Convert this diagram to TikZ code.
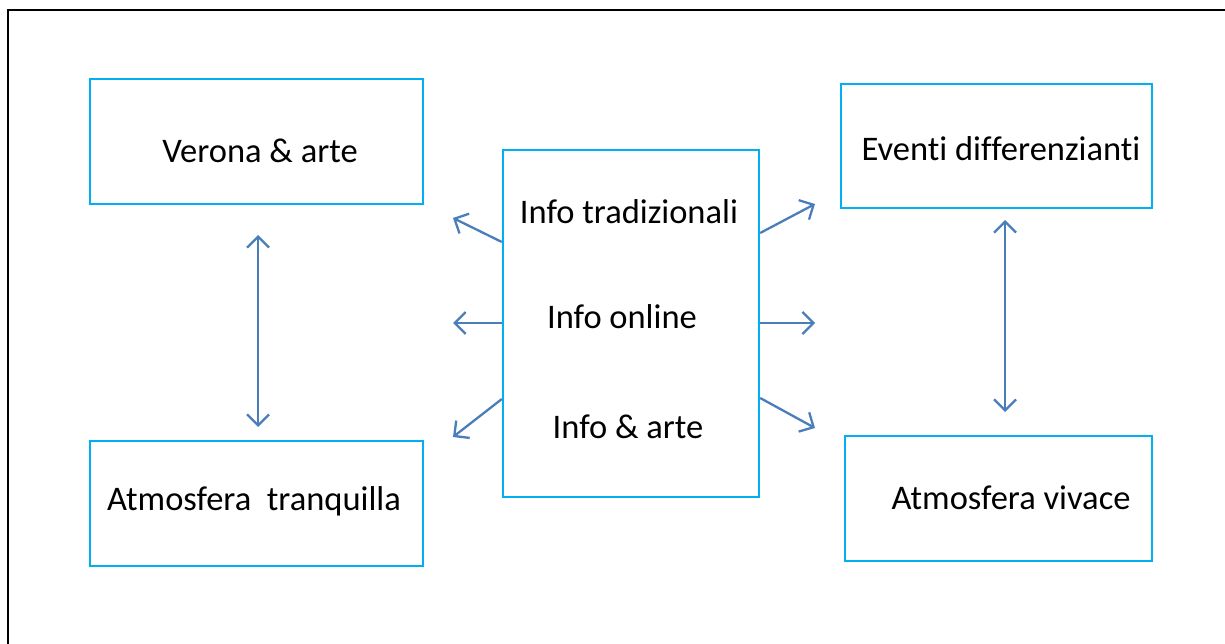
\documentclass[tikz,border=0pt]{standalone}
\usepackage{fontspec}
\setmainfont[Ligatures={NoCommon}]{Carlito}
\usetikzlibrary{arrows.meta}
\definecolor{boxblue}{HTML}{00B0F0}
\definecolor{arrblue}{HTML}{4A7EBB}
\begin{document}
\begin{tikzpicture}[x=1pt,y=-1pt,
  box/.style={draw=boxblue,line width=2.3pt,inner sep=0pt},
  lbl/.style={font=\fontsize{34.5}{40}\selectfont,inner sep=0pt,anchor=base},
  conn/.style={draw=arrblue,line width=2.3pt,-{Straight Barb[length=11pt,width=22pt,line width=2.3pt]}},
  dconn/.style={draw=arrblue,line width=2.3pt,{Straight Barb[length=11pt,width=22pt,line width=2.3pt]}-{Straight Barb[length=11pt,width=22pt,line width=2.3pt]}}]
\useasboundingbox (0,0) rectangle (1225,644);
\draw[line width=2pt] (8,644) -- (8,10) -- (1225,10);
% boxes
\node[box,minimum width=333pt,minimum height=125pt] (va) at (256.5,141.5) {};
\node[box,minimum width=333pt,minimum height=125pt] (at) at (256.5,503.5) {};
\node[box,minimum width=256pt,minimum height=347pt] (c) at (631,323.5) {};
\node[box,minimum width=311pt,minimum height=124pt] (ed) at (996.5,146) {};
\node[box,minimum width=307pt,minimum height=125pt] (av) at (998.5,498.5) {};
% labels
\node[lbl] (tva) at (260,163) {Verona \& arte};
\node[lbl] (tat) at (254,510) {Atmosfera\ \ tranquilla};
\node[lbl] (ted) at (1001,161) {Eventi differenzianti};
\node[lbl] (tav) at (1011,509) {Atmosfera vivace};
\node[lbl] (t1) at (629,224) {Info tradizionali};
\node[lbl] (t2) at (622,328) {Info online};
\node[lbl] (t3) at (628,438) {Info \& arte};
% connector endpoints
\coordinate (l1) at (453,218);
\coordinate (l2) at (453,323);
\coordinate (l3) at (453,437);
\coordinate (r1) at (815,204);
\coordinate (r2) at (815,323);
\coordinate (r3) at (815,428);
\draw[conn] (c.west |- 0,242) -- (l1);
\draw[conn] (c.west |- 0,323) -- (l2);
\draw[conn] (c.west |- 0,399) -- (l3);
\draw[conn] (c.east |- 0,233) -- (r1);
\draw[conn] (c.east |- 0,323) -- (r2);
\draw[conn] (c.east |- 0,398) -- (r3);
\coordinate (vl1) at (258,235);
\coordinate (vl2) at (258,427);
\coordinate (vr1) at (1005,220);
\coordinate (vr2) at (1005,412);
\draw[dconn] (vl1) -- (vl2);
\draw[dconn] (vr1) -- (vr2);
\end{tikzpicture}
\end{document}
